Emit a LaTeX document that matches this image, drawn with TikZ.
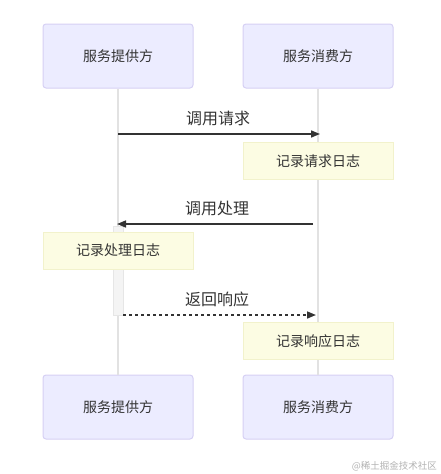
\documentclass[tikz,border=0pt]{standalone}
\usepackage{fontspec}
\setmainfont{Noto Sans CJK SC}
\usetikzlibrary{arrows.meta}
\definecolor{actfill}{HTML}{ECECFF}
\definecolor{actdraw}{HTML}{D6D0F4}
\definecolor{notefill}{HTML}{FCFCE3}
\definecolor{notedraw}{HTML}{F2F2CC}
\definecolor{lifecol}{HTML}{E2E2E2}
\definecolor{txt}{HTML}{333333}
\definecolor{barfill}{HTML}{F4F4F4}
\definecolor{bardraw}{HTML}{E6E6E6}
\tikzset{
  actor/.style={draw=actdraw, fill=actfill, line width=1pt, rounded corners=3pt,
    minimum width=150pt, minimum height=64pt, inner sep=0pt, text=txt,
    font=\fontsize{14}{16}\selectfont},
  note/.style={draw=notedraw, fill=notefill, line width=0.8pt,
    minimum width=150pt, minimum height=37pt, inner sep=0pt, text=txt,
    font=\fontsize{14}{16}\selectfont},
  life/.style={draw=lifecol, line width=1.5pt},
  msg/.style={draw=txt, line width=1.6pt, -{Triangle[length=9pt,width=7pt]}},
  msglabel/.style={text=txt, font=\fontsize{16}{18}\selectfont, inner sep=0pt},
  bar/.style={draw=bardraw, fill=barfill, line width=0.8pt, minimum width=10pt, inner sep=0pt}
}
\begin{document}
\begin{tikzpicture}[x=1pt,y=-1pt]
\useasboundingbox (0,0) rectangle (441,474);
% actors
\node[actor] (p1) at (118,56) {服务提供方};
\node[actor] (c1) at (318,56) {服务消费方};
\node[actor] (p2) at (118,407) {服务提供方};
\node[actor] (c2) at (318,407) {服务消费方};
% lifelines
\draw[life] (p1.south) -- (p2.north);
\draw[life] (c1.south) -- (c2.north);
% activation bar
\node[bar, minimum height=89pt] (act) at (118,270.5) {};
% coordinates on lifelines
\coordinate (m1s) at (118,134);
\coordinate (m1e) at (320,134);
\coordinate (m2s) at (313,224);
\coordinate (m2e) at (117,224);
\coordinate (m3s) at (123,315);
\coordinate (m3e) at (316,315);
% messages
\draw[msg] (m1s) -- (m1e);
\node[msglabel] (l1) at (218,118) {调用请求};
\draw[msg] (m2s) -- (m2e);
\node[msglabel] (l2) at (217,208) {调用处理};
\draw[msg, line width=1.6pt, dash pattern=on 3pt off 3pt] (m3s) -- (m3e);
\node[msglabel] (l3) at (217,299) {返回响应};
% notes
\node[note] (n1) at (318,161) {记录请求日志};
\node[note] (n2) at (118,250.5) {记录处理日志};
\node[note] (n3) at (318,341) {记录响应日志};
% watermark
\node[anchor=east, text=black!30, font=\fontsize{9.5}{11}\selectfont, inner sep=0pt] (wm) at (437,466) {@稀土掘金技术社区};
\end{tikzpicture}
\end{document}
